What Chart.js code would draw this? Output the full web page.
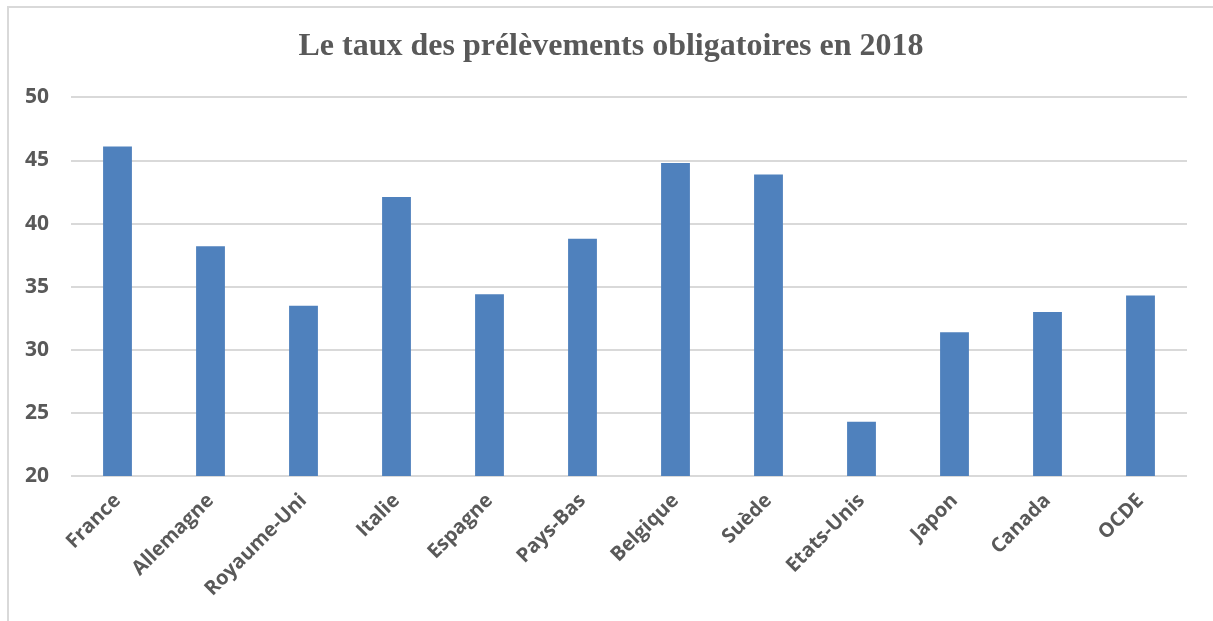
<!DOCTYPE html>
<html>
<head>
<meta charset="utf-8">
<script src="https://cdn.jsdelivr.net/npm/chart.js@4"></script>
<style>
  html, body { margin: 0; padding: 0; background: #fff; }
  .frame {
    position: absolute; left: 7px; top: 6px; width: 1300px; height: 700px;
    border-left: 2px solid #d9d9d9; border-top: 2px solid #d9d9d9;
  }
  .wrap { position: absolute; left: 0; top: 0; width: 1213px; height: 621px; }
</style>
</head>
<body>
<div class="frame"></div>
<div class="wrap"><canvas id="chart"></canvas></div>
<script>
const categories = ['France', 'Allemagne', 'Royaume-Uni', 'Italie', 'Espagne', 'Pays-Bas',
    'Belgique', 'Suède', 'Etats-Unis', 'Japon', 'Canada', 'OCDE'];
const taux2018 = [46.1, 38.2, 33.5, 42.1, 34.4, 38.8, 44.8, 43.9, 24.3, 31.4, 33.0, 34.3];
const yTicks = [20, 25, 30, 35, 40, 45, 50];

const grey = '#595959';

const ctx = document.getElementById('chart').getContext('2d');
new Chart(ctx, {
    type: 'bar',
    data: {
        labels: categories,
        datasets: [{
            data: taux2018,
            backgroundColor: '#4f81bd',
            borderWidth: 0,
            categoryPercentage: 1,
            barPercentage: 0.31
        }]
    },
    options: {
        responsive: true,
        maintainAspectRatio: false,
        animation: false,
        layout: {
            // left padding shifts the centred title to match the original
            padding: { left: 35, right: 26, top: 0, bottom: 0 }
        },
        plugins: {
            legend: { display: false },
            tooltip: { enabled: false },
            title: {
                display: true,
                text: 'Le taux des prélèvements obligatoires en 2018',
                color: grey,
                font: { family: '"Liberation Serif", "Times New Roman", serif', size: 32, weight: 'bold' },
                padding: { top: 28, bottom: 31 }
            }
        },
        scales: {
            x: {
                grid: { display: false },
                border: { display: false },
                ticks: {
                    color: grey,
                    font: { family: '"Open Sans", sans-serif', size: 20, weight: 'bold' },
                    minRotation: 45,
                    maxRotation: 45,
                    padding: 5
                },
                afterFit: (scale) => { scale.height = 145; }
            },
            y: {
                min: 20,
                max: 50,
                afterBuildTicks: (scale) => { scale.ticks = yTicks.map(v => ({ value: v })); },
                grid: { color: '#d9d9d9', lineWidth: 2, drawTicks: false },
                border: { display: false },
                ticks: {
                    color: grey,
                    font: { family: '"Open Sans", sans-serif', size: 21, weight: 'bold' },
                    // mirrored so the labels are not clipped to the narrow axis box
                    mirror: true,
                    padding: -46
                },
                afterFit: (scale) => { scale.width = 36; }
            }
        }
    }
});
</script>
</body>
</html>
